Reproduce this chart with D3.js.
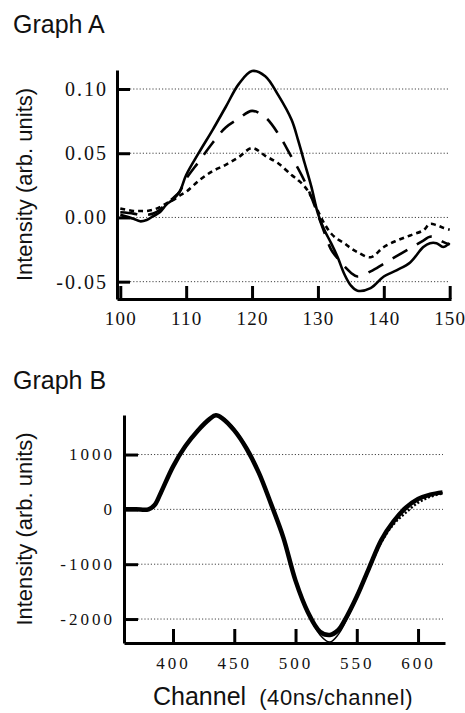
<!DOCTYPE html>
<html>
<head>
<meta charset="utf-8">
<script src="https://cdn.jsdelivr.net/npm/d3@7"></script>
<style>
  body { margin: 0; background: #fff; }
  .title { font-family: "Liberation Sans", Arial, sans-serif; font-size: 25px; fill: #111; }
  .axis-label { font-family: "Liberation Sans", Arial, sans-serif; font-size: 22px; fill: #111; }
  .tick text { font-family: "Liberation Serif", "Times New Roman", serif; fill: #111; }
</style>
</head>
<body>
<script>
// ---- Graph A data (channel vs intensity) ----
const aChannels = [100, 102, 103, 104, 105, 106, 107, 108, 109, 110, 112, 114, 116, 118, 120, 122, 124, 126, 127, 128, 129, 130, 131, 132, 133, 134, 135, 136, 138, 140, 142, 144, 146, 147, 148, 149, 150];
const aSolid = [0.002, -0.001, -0.003, -0.002, 0.001, 0.004, 0.01, 0.014, 0.02, 0.033, 0.051, 0.068, 0.086, 0.104, 0.114, 0.11, 0.095, 0.076, 0.06, 0.042, 0.024, 0.003, -0.01, -0.02, -0.031, -0.044, -0.053, -0.057, -0.055, -0.046, -0.041, -0.035, -0.023, -0.02, -0.02, -0.023, -0.02];
const aDashed = [0.004, 0.003, 0.002, 0.002, 0.003, 0.006, 0.011, 0.015, 0.02, 0.03, 0.044, 0.058, 0.07, 0.077, 0.083, 0.078, 0.065, 0.047, 0.038, 0.028, 0.016, 0.002, -0.012, -0.025, -0.032, -0.038, -0.043, -0.046, -0.042, -0.036, -0.03, -0.024, -0.018, -0.015, -0.016, -0.019, -0.021];
const aDotted = [0.007, 0.005, 0.005, 0.005, 0.006, 0.008, 0.011, 0.0135, 0.017, 0.02, 0.029, 0.036, 0.041, 0.047, 0.054, 0.048, 0.042, 0.033, 0.029, 0.024, 0.016, 0.005, -0.005, -0.0125, -0.017, -0.02, -0.024, -0.027, -0.031, -0.023, -0.018, -0.014, -0.01, -0.005, -0.006, -0.008, -0.0095];
const aXTicks = [100, 110, 120, 130, 140, 150];
const aYTicks = [-0.05, 0.00, 0.05, 0.10];

// ---- Graph B data ----
const bChannels = [360, 370, 380, 385, 390, 400, 410, 420, 430, 435, 440, 450, 460, 470, 480, 490, 500, 510, 520, 528, 535, 540, 550, 560, 570, 580, 590, 600, 610, 620];
const bData = [0, 0, 0, 80, 300, 780, 1150, 1430, 1650, 1715, 1665, 1440, 1110, 670, 100, -510, -1300, -1870, -2230, -2290, -2200, -2030, -1590, -1070, -560, -220, 30, 190, 270, 310];
const bFit = [0, 0, 0, 70, 290, 770, 1140, 1420, 1650, 1720, 1680, 1470, 1140, 700, 130, -480, -1280, -1880, -2290, -2420, -2280, -2090, -1610, -1080, -570, -230, 20, 180, 265, 305];
const bDotted = [0, 0, 0, 75, 295, 775, 1145, 1425, 1650, 1715, 1670, 1450, 1120, 680, 110, -500, -1290, -1870, -2240, -2300, -2210, -2040, -1600, -1090, -600, -270, -60, 120, 230, 290];
const bXTicks = [400, 450, 500, 550, 600];
const bYTicks = [-2000, -1000, 0, 1000];

const WIDTH = 465, HEIGHT = 713;

const svg = d3.select("body").append("svg")
    .attr("width", WIDTH)
    .attr("height", HEIGHT)
    .attr("viewBox", [0, 0, WIDTH, HEIGHT]);

// plain hyphen for negatives, like the original
const hyphen = f => d => f(d).replace("\u2212", "-");

function drawPanel(cfg) {
    const x = d3.scaleLinear().domain(cfg.xDomain).range(cfg.xRange);
    const y = d3.scaleLinear().domain(cfg.yDomain).range(cfg.yRange);
    const left = cfg.xRange[0], right = cfg.xRange[1];
    const top = cfg.yRange[1], bottom = cfg.yRange[0];

    // Title
    svg.append("text")
        .attr("class", "title")
        .attr("x", 13)
        .attr("y", cfg.titleY)
        .text(cfg.title);

    // Y label
    svg.append("text")
        .attr("class", "axis-label")
        .attr("transform", "rotate(-90)")
        .attr("x", -(top + bottom) / 2)
        .attr("y", 32)
        .attr("text-anchor", "middle")
        .text("Intensity (arb. units)");

    // Dotted grid lines
    svg.append("g")
        .selectAll("line")
        .data(cfg.yTicks)
        .join("line")
        .attr("x1", left + cfg.tickLen)
        .attr("x2", right - 2)
        .attr("y1", d => y(d))
        .attr("y2", d => y(d))
        .style("stroke", "#444")
        .style("stroke-width", 1)
        .style("stroke-dasharray", "1.2,2");

    // Left axis, ticks pointing inward
    const yAxis = svg.append("g")
        .attr("transform", `translate(${left},0)`)
        .call(d3.axisLeft(y).tickValues(cfg.yTicks).tickFormat(hyphen(cfg.yFormat))
            .tickSizeInner(-cfg.tickLen).tickSizeOuter(0).tickPadding(cfg.yPad));
    yAxis.select(".domain").style("stroke", "#000").style("stroke-width", 3);
    yAxis.selectAll(".tick line").style("stroke", "#000").style("stroke-width", 3);
    yAxis.selectAll(".tick text")
        .style("font-size", cfg.fontSize + "px")
        .style("letter-spacing", cfg.spacing + "px");

    // Bottom axis, ticks pointing up
    const xAxis = svg.append("g")
        .attr("transform", `translate(0,${bottom})`)
        .call(d3.axisBottom(x).tickValues(cfg.xTicks).tickFormat(d3.format("d"))
            .tickSizeInner(-cfg.tickLen).tickSizeOuter(0).tickPadding(cfg.xPad));
    xAxis.select(".domain").style("stroke", "#000").style("stroke-width", 3);
    xAxis.selectAll(".tick line").style("stroke", "#000").style("stroke-width", 3);
    xAxis.selectAll(".tick text")
        .style("font-size", cfg.xFontSize + "px")
        .style("letter-spacing", cfg.xSpacing + "px");

    // Series
    cfg.series.forEach(function(s) {
        const line = d3.line()
            .curve(d3.curveCatmullRom)
            .x((d, i) => x(cfg.channels[i]))
            .y(d => y(d));
        svg.append("path")
            .datum(s.values)
            .attr("d", line)
            .style("fill", "none")
            .style("stroke", "#000")
            .style("stroke-width", s.width)
            .style("stroke-dasharray", s.dash)
            .style("stroke-linejoin", "round");
    });

    return { x, y };
}

drawPanel({
    title: "Graph A",
    titleY: 33,
    xDomain: [99.5, 150.2], xRange: [117, 451],
    yDomain: [-0.0635, 0.1148], yRange: [299, 70],
    xTicks: aXTicks, yTicks: aYTicks,
    yFormat: d3.format(".2f"),
    tickLen: 13, yPad: 9, xPad: 13,
    fontSize: 20, spacing: 2,
    xFontSize: 19, xSpacing: 1.2,
    channels: aChannels,
    series: [
        { values: aSolid, width: 2.6, dash: null },
        { values: aDashed, width: 2.6, dash: "17,11" },
        { values: aDotted, width: 2.6, dash: "5,4" }
    ]
});

drawPanel({
    title: "Graph B",
    titleY: 389,
    xDomain: [360, 622], xRange: [124, 445],
    yDomain: [-2437, 1721], yRange: [643, 415],
    xTicks: bXTicks, yTicks: bYTicks,
    yFormat: d3.format("d"),
    tickLen: 14, yPad: 9, xPad: 14,
    fontSize: 17, spacing: 3,
    xFontSize: 17, xSpacing: 3,
    channels: bChannels,
    series: [
        { values: bDotted, width: 2.5, dash: "2,2" },
        { values: bData, width: 4.5, dash: null },
        { values: bFit, width: 1.5, dash: null }
    ]
});

// X axis title
const xt = svg.append("text")
    .attr("x", 153)
    .attr("y", 705)
    .attr("class", "axis-label");
xt.append("tspan").style("font-size", "25px").text("Channel");
xt.append("tspan").attr("dx", 13).style("font-size", "22px")
    .style("letter-spacing", "0.6px").text("(40ns/channel)");
</script>
</body>
</html>
